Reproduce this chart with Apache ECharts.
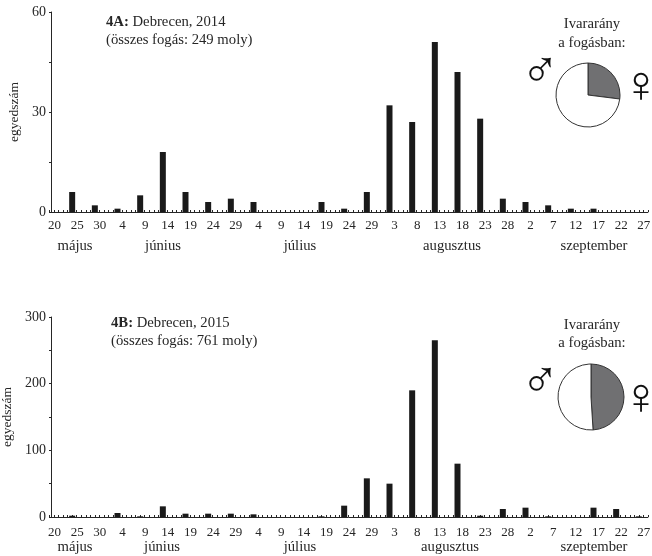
<!DOCTYPE html>
<html><head><meta charset="utf-8">
<style>html,body{margin:0;padding:0;background:#fff}#c{width:652px;height:556px}</style>
<script src="https://cdn.jsdelivr.net/npm/echarts@6/dist/echarts.min.js"></script>
</head><body><div id="c"></div>
<script>
const tickLabels = ['20','25','30','4','9','14','19','24','29','4','9','14','19','24','29','3','8','13','18','23','28','2','7','12','17','22','27'];
const countsA = [0,6,2,1,5,18,6,3,4,3,0,0,3,1,6,32,27,51,42,28,4,3,2,1,1,0,0];
const countsB = [0,2,0,6,1,16,5,5,5,4,0,0,1,17,58,50,190,265,80,2,12,14,1,0,14,12,1];
const months = ['május','június','július','augusztus','szeptember'];
const sexA = [{name:'nőstény',value:27},{name:'hím',value:73}];
const sexB = [{name:'nőstény',value:49},{name:'hím',value:51}];

const serif = '"Liberation Serif","Times New Roman",serif';
const ink = '#262626';
const chart = echarts.init(document.getElementById('c'), null, {renderer:'canvas'});

function xAxis(i,margin){
  return {gridIndex:i,type:'value',min:0,max:132,interval:1,
    axisLine:{onZero:false,lineStyle:{color:ink,width:1}},
    axisTick:{inside:true,length:2,lineStyle:{color:ink,width:1}},
    splitLine:{show:false},
    axisLabel:{color:ink,fontFamily:serif,fontSize:13,margin,padding:[0,0,0,10],
      formatter:v=>(v%5===0 && tickLabels[v/5]!==undefined)?tickLabels[v/5]:''}};
}
function yAxis(i,max,interval){
  return {gridIndex:i,type:'value',min:0,max,interval,offset:-1.5,
    name:'egyedszám',nameLocation:'middle',nameGap:30,nameRotate:90,
    nameTextStyle:{color:ink,fontFamily:serif,fontSize:13.5},
    axisLine:{show:true,lineStyle:{color:ink,width:1}},
    axisTick:{show:true,length:2,lineStyle:{color:ink,width:1}},
    minorTick:{show:true,splitNumber:2,length:2,lineStyle:{color:ink}},
    splitLine:{show:false},
    axisLabel:{color:ink,fontFamily:serif,fontSize:14,margin:5}};
}
function bars(i,vals){
  return {type:'bar',xAxisIndex:i,yAxisIndex:i,barWidth:6,silent:true,
    itemStyle:{color:'#1a1a1a'},data:vals.map((v,k)=>[k*5,v])};
}
function pie(vals,cx,cy,r){
  return {type:'pie',center:[cx,cy],radius:[0,r],startAngle:90,clockwise:true,silent:true,
    label:{show:false},labelLine:{show:false},
    itemStyle:{borderColor:'#333',borderWidth:1},
    data:[{...vals[0],itemStyle:{color:'#707072'}},{...vals[1],itemStyle:{color:'#fff'}}]};
}
function txt(x,y,parts,size,align){
  return {type:'text',x,y,style:{text:parts,fontFamily:serif,fontSize:size||13,fill:ink,align:align||'left',verticalAlign:'middle'}};
}
function bold(x,y,b,rest){
  return {type:'text',x,y,style:{text:'{b|'+b+'} {r|'+rest+'}',fontFamily:serif,fontSize:14.7,fill:ink,verticalAlign:'middle',
    rich:{b:{fontFamily:serif,fontSize:14.7,fontWeight:'bold',fill:ink},r:{fontFamily:serif,fontSize:14.7,fill:ink}}}};
}
function sym(x,y,ch,size){
  return {type:'text',x,y,style:{text:ch,fontFamily:'"Liberation Sans"',fontSize:size,fill:'#111',align:'center',verticalAlign:'middle'}};
}
const monthXA=[75,163,300,452,594], monthXB=[75,162,300,450,594];
chart.setOption({
  animation:false,
  grid:[{left:49.5,top:12,width:598.4,height:200,outerBoundsMode:'none'},{left:49.5,top:317,width:598.4,height:200,outerBoundsMode:'none'}],
  xAxis:[xAxis(0,7),xAxis(1,9)],
  yAxis:[yAxis(0,60,30),yAxis(1,300,100)],
  series:[bars(0,countsA),bars(1,countsB),pie(sexA,588,95,32),pie(sexB,591,397,33)],
  graphic:{elements:[
    bold(106,22,'4A:','Debrecen, 2014'),
    txt(106,40,'(összes fogás: 249 moly)',14.7),
    bold(111,323,'4B:','Debrecen, 2015'),
    txt(111,341,'(összes fogás: 761 moly)',14.7),
    txt(592,24,'Ivararány',14.7,'center'),
    txt(592,43,'a fogásban:',14.7,'center'),
    txt(592,325,'Ivararány',14.7,'center'),
    txt(592,343,'a fogásban:',14.7,'center'),
    ...months.map((m,i)=>txt(monthXA[i],246,m,14.7,'center')),
    ...months.map((m,i)=>txt(monthXB[i],547,m,14.7,'center')),
    sym(540,73,'♂',52),sym(641,88,'♀',52),
    sym(540,383,'♂',52),sym(641,400,'♀',52)
  ]}
});
</script></body></html>
